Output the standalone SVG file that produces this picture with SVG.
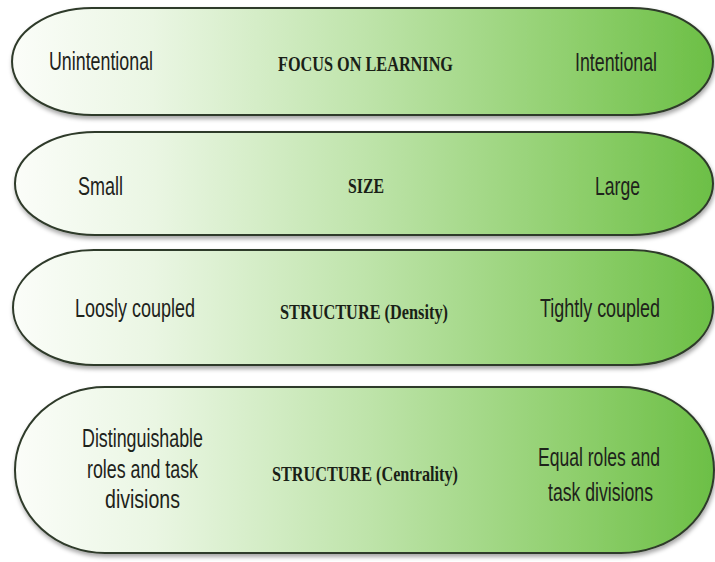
<svg xmlns="http://www.w3.org/2000/svg" width="715" height="562" viewBox="0 0 715 562">
<defs>
<linearGradient id="g" x1="0" y1="0" x2="1" y2="0">
<stop offset="0" stop-color="#fbfdf9"/>
<stop offset="0.2" stop-color="#eaf6e3"/>
<stop offset="0.5" stop-color="#bfe4ab"/>
<stop offset="0.8" stop-color="#8fcf6d"/>
<stop offset="1" stop-color="#6cbf46"/>
</linearGradient>
<filter id="sh" x="-5%" y="-10%" width="110%" height="130%">
<feDropShadow dx="1" dy="3" stdDeviation="2" flood-color="#000" flood-opacity="0.35"/>
</filter>
</defs>
<style>
.pill{fill:url(#g);stroke:#2f3a2a;stroke-width:2;filter:url(#sh)}
.s{font-family:"Liberation Sans",Arial,sans-serif;font-size:25px;fill:#1e231b}
.b{font-family:"Liberation Serif","Times New Roman",serif;font-size:22px;font-weight:bold;fill:#1a1f17}
</style>
<rect width="715" height="562" fill="#ffffff"/>
<g id="focus">
<path class="pill" d="M92,8 H632 A81,53.5 0 0 1 632,115 H92 A80,53.5 0 0 1 92,8 Z"/>
<text class="s" x="49" y="70" textLength="104" lengthAdjust="spacingAndGlyphs">Unintentional</text>
<text class="b" x="278" y="71" textLength="175" lengthAdjust="spacingAndGlyphs">FOCUS ON LEARNING</text>
<text class="s" x="575" y="71" textLength="82" lengthAdjust="spacingAndGlyphs">Intentional</text>
</g>
<g id="size">
<path class="pill" d="M95,132 H632 A81,51.5 0 0 1 632,235 H95 A80,51.5 0 0 1 95,132 Z"/>
<text class="s" x="78" y="195" textLength="45" lengthAdjust="spacingAndGlyphs">Small</text>
<text class="b" x="348" y="193" textLength="36" lengthAdjust="spacingAndGlyphs">SIZE</text>
<text class="s" x="595" y="195" textLength="45" lengthAdjust="spacingAndGlyphs">Large</text>
</g>
<g id="density">
<path class="pill" d="M94,250 H632 A81,57.5 0 0 1 632,365 H94 A81,57.5 0 0 1 94,250 Z"/>
<text class="s" x="75" y="317" textLength="120" lengthAdjust="spacingAndGlyphs">Loosly coupled</text>
<text class="b" x="280" y="319" textLength="168" lengthAdjust="spacingAndGlyphs">STRUCTURE (Density)</text>
<text class="s" x="540" y="317" textLength="120" lengthAdjust="spacingAndGlyphs">Tightly coupled</text>
</g>
<g id="centrality">
<path class="pill" d="M105,387 H621 A93,83 0 0 1 621,553 H105 A90,83 0 0 1 105,387 Z"/>
<text class="s" x="82" y="447" textLength="121" lengthAdjust="spacingAndGlyphs">Distinguishable</text>
<text class="s" x="87" y="478" textLength="111" lengthAdjust="spacingAndGlyphs">roles and task</text>
<text class="s" x="105" y="508" textLength="75" lengthAdjust="spacingAndGlyphs">divisions</text>
<text class="b" x="272" y="481" textLength="186" lengthAdjust="spacingAndGlyphs">STRUCTURE (Centrality)</text>
<text class="s" x="538" y="466" textLength="122" lengthAdjust="spacingAndGlyphs">Equal roles and</text>
<text class="s" x="548" y="501" textLength="105" lengthAdjust="spacingAndGlyphs">task divisions</text>
</g>
<g id="connectors"/>
</svg>
